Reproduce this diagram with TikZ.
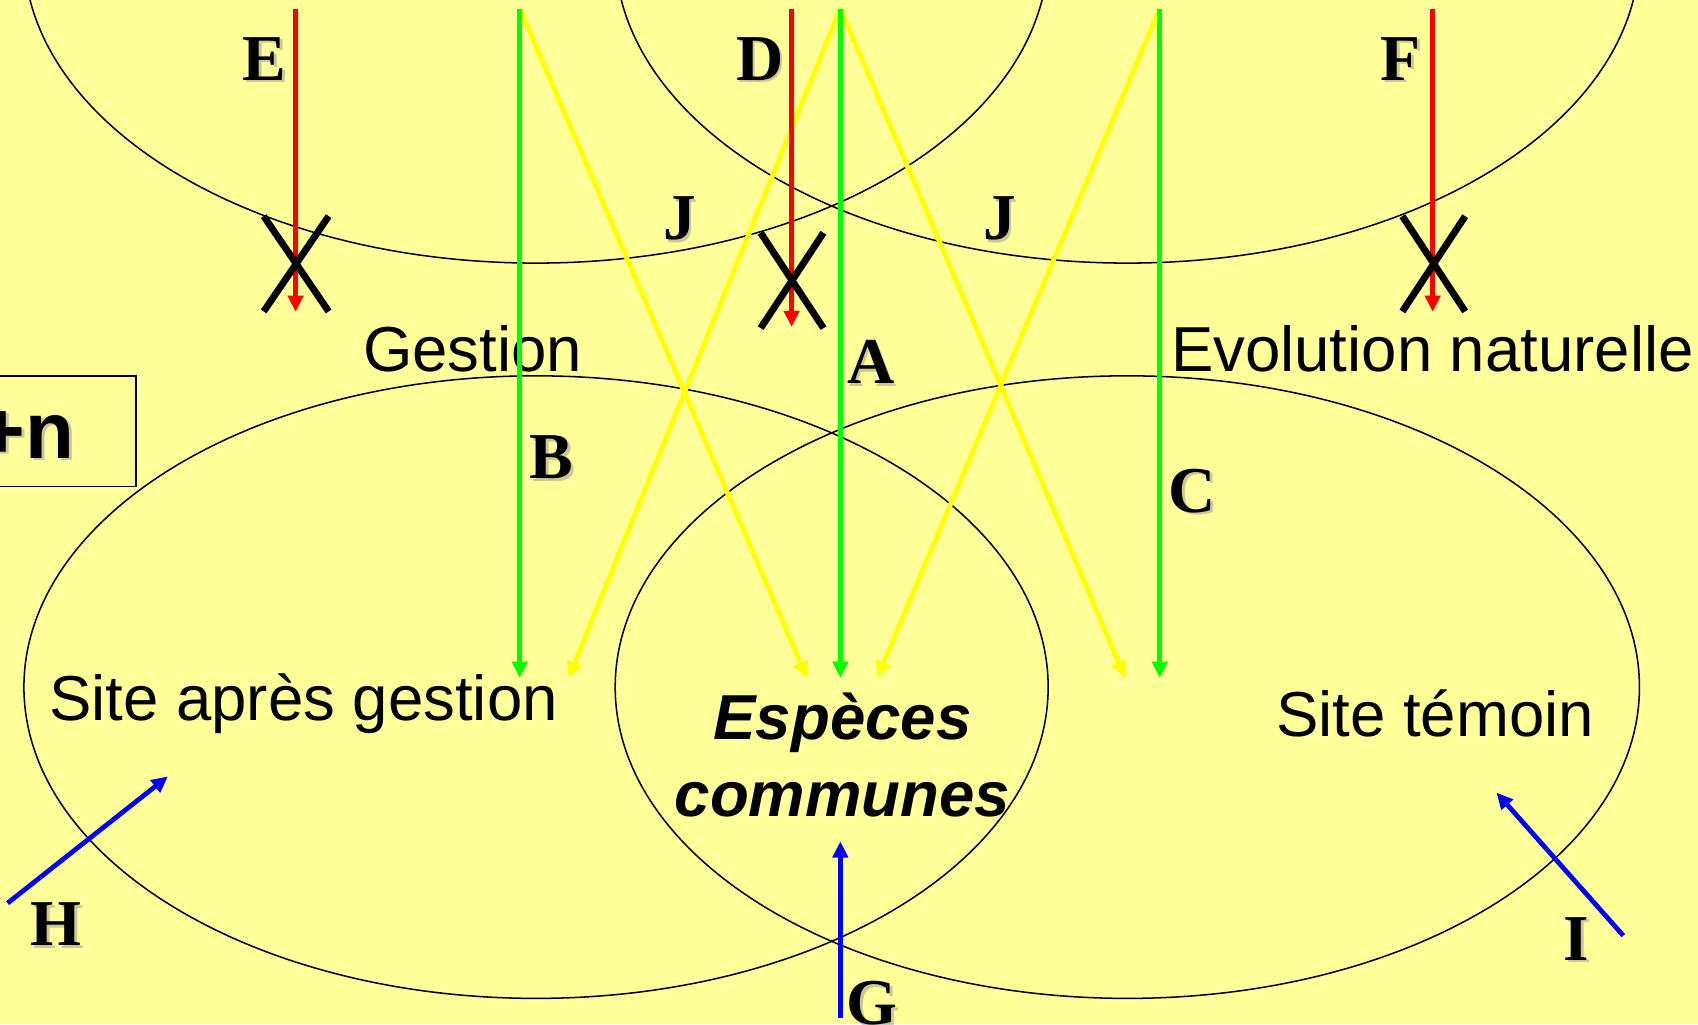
\documentclass[tikz,border=0pt]{standalone}
\usepackage{fontspec}
\setmainfont{Liberation Serif}
\setsansfont{Liberation Sans}
\usetikzlibrary{arrows.meta}
\definecolor{bg}{HTML}{FFFF99}
\definecolor{grn}{HTML}{00FF00}
\definecolor{ylw}{HTML}{FFFF00}
\definecolor{rd}{HTML}{FF0000}
\definecolor{bl}{HTML}{0000FF}
\definecolor{shd}{HTML}{7A7A90}
\newcommand\mylabel[3]{%
  \node[lblshadow] (#1s) at (#2) {#3};
  \node[lbl] (#1) at (#2) {#3};}
\begin{document}
\begin{tikzpicture}[x=0.02cm,y=-0.02cm,
  ell/.style={draw=black,line width=0.8pt},
  arr/.style={line width=2.5pt,-{Triangle[length=0.3cm,width=0.28cm]}},
  redarr/.style={arr,draw=rd},
  grnarr/.style={arr,draw=grn},
  ylwarr/.style={arr,draw=ylw},
  blarr/.style={arr,draw=bl},
  xmark/.style={draw=black,line width=3.6pt},
  lbl/.style={anchor=base,inner sep=0pt,font=\fontsize{34.4pt}{40pt}\selectfont\bfseries},
  lblshadow/.style={lbl,text=shd,opacity=0.4,xshift=0.05cm,yshift=-0.05cm},
  sans/.style={inner sep=0pt,font=\fontsize{33.4pt}{40pt}\selectfont\sffamily},
  espece/.style={sans,anchor=base,font=\fontsize{33.4pt}{40pt}\selectfont\sffamily\bfseries\itshape},
  plusn/.style={sans,anchor=base east,font=\fontsize{42pt}{48pt}\selectfont\sffamily\bfseries}
]
\useasboundingbox (0,0) rectangle (1568,946);
\fill[bg] (0,0) rectangle (1568,946);
\clip (0,0) rectangle (1568,946);

% ellipses
\draw[ell] (495,-44.5) ellipse [x radius=9.46cm, y radius=5.75cm];
\draw[ell] (1041,-44.5) ellipse [x radius=9.46cm, y radius=5.75cm];
\draw[ell] (495,634.5) ellipse [x radius=9.46cm, y radius=5.75cm];
\draw[ell] (1041,634.5) ellipse [x radius=9.46cm, y radius=5.75cm];

% box +n
\draw[line width=0.8pt] (-10,347) rectangle (125.5,449.4);
\node[plusn,text=shd,opacity=0.4,xshift=0.05cm,yshift=-0.05cm] (plusns) at (69,423) {+n};
\node[plusn] (plusn) at (69,423) {+n};

% texts
\node[sans,anchor=base west] (gestion) at (335,343) {Gestion};
\node[sans,anchor=base west] (evol) at (1081,343) {Evolution naturelle};
\node[sans,anchor=base west] (apres) at (45,665) {Site après gestion};
\node[sans,anchor=base west] (temoin) at (1178,680) {Site témoin};
\node[espece] (esp1) at (778,683) {Espèces};
\node[espece] (esp2) at (778,754) {communes};

% coordinates
\coordinate (Etop) at (273,8);   \coordinate (Etip) at (273,288);
\coordinate (Dtop) at (731,8);   \coordinate (Dtip) at (731,302);
\coordinate (Ftop) at (1323,8);  \coordinate (Ftip) at (1323,288);
\coordinate (Btop) at (480,8);   \coordinate (Btip) at (480,626);
\coordinate (Atop) at (776,8);   \coordinate (Atip) at (776,626);
\coordinate (Ctop) at (1071,8);  \coordinate (Ctip) at (1071,626);
\coordinate (Y1) at (525,626);   \coordinate (Y2) at (745,626);
\coordinate (Y3) at (810,626);   \coordinate (Y4) at (1039,626);
\coordinate (Hs) at (7,834);     \coordinate (Ht) at (155,717);
\coordinate (Gs) at (776,940);   \coordinate (Gt) at (776,777);
\coordinate (Is) at (1499,864);  \coordinate (It) at (1382,732);

% yellow arrows
\draw[ylwarr] (Btop) -- (Y2);
\draw[ylwarr] (Atop) -- (Y1);
\draw[ylwarr] (Atop) -- (Y4);
\draw[ylwarr] (Ctop) -- (Y3);
% green arrows
\draw[grnarr] (Btop) -- (Btip);
\draw[grnarr] (Atop) -- (Atip);
\draw[grnarr] (Ctop) -- (Ctip);
% red arrows
\draw[redarr] (Etop) -- (Etip);
\draw[redarr] (Dtop) -- (Dtip);
\draw[redarr] (Ftop) -- (Ftip);
% blue arrows
\draw[blarr] (Hs) -- (Ht);
\draw[blarr] (Gs) -- (Gt);
\draw[blarr] (Is) -- (It);

% X marks
\draw[xmark,shift={(273.5,243.6)}] (-30,-44) -- (30,44) (30,-44) -- (-30,44);
\draw[xmark,shift={(731.4,259)}] (-29,-44) -- (29,44) (29,-44) -- (-29,44);
\draw[xmark,shift={(1324,243.6)}] (-29,-44) -- (29,44) (29,-44) -- (-29,44);

% letter labels
\mylabel{lE}{244,74}{E}
\mylabel{lD}{701.5,74}{D}
\mylabel{lF}{1293.5,74}{F}
\mylabel{lJa}{627.5,221.6}{J}
\mylabel{lJb}{923,221.6}{J}
\mylabel{lA}{804,354}{A}
\mylabel{lB}{509.5,442}{B}
\mylabel{lC}{1101,473}{C}
\mylabel{lH}{52,873}{H}
\mylabel{lI}{1455.5,886.5}{I}
\mylabel{lG}{805,946}{G}
\end{tikzpicture}
\end{document}
